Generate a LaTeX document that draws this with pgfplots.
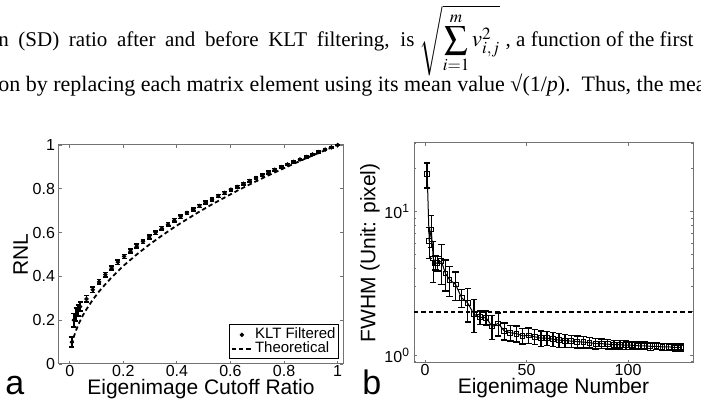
\documentclass[border=0pt]{standalone}
\usepackage{mathptmx}
\usepackage{graphicx}
\usepackage{fontspec}
\setmainfont{Liberation Serif}
\newfontfamily\arial{Liberation Sans}
\usepackage{pgfplots}
\pgfplotsset{compat=1.18}
\usepackage{pgfplotstable}

\pgfplotstableread{
x y e
0.0078 0.100 0.022
0.0156 0.200 0.030
0.0234 0.225 0.030
0.0313 0.245 0.025
0.0391 0.262 0.020
0.0625 0.297 0.015
0.0859 0.339 0.012
0.1094 0.375 0.011
0.1328 0.408 0.010
0.1563 0.438 0.010
0.1797 0.465 0.010
0.2031 0.491 0.009
0.2266 0.515 0.009
0.2500 0.538 0.009
0.2734 0.559 0.008
0.2969 0.580 0.008
0.3203 0.600 0.008
0.3438 0.619 0.008
0.3672 0.638 0.008
0.3906 0.656 0.008
0.4141 0.673 0.008
0.4375 0.690 0.007
0.4609 0.706 0.007
0.4844 0.722 0.007
0.5078 0.737 0.007
0.5313 0.752 0.007
0.5547 0.767 0.007
0.5781 0.781 0.007
0.6016 0.796 0.006
0.6250 0.809 0.006
0.6484 0.823 0.006
0.6719 0.836 0.006
0.6953 0.849 0.006
0.7188 0.862 0.006
0.7422 0.874 0.006
0.7656 0.887 0.005
0.7891 0.899 0.005
0.8125 0.911 0.005
0.8359 0.923 0.005
0.8594 0.934 0.005
0.8828 0.945 0.005
0.9063 0.957 0.004
0.9297 0.968 0.004
0.9531 0.979 0.004
0.9766 0.989 0.004
1.0000 1.000 0.003
}\klt

\pgfplotstableread{
x y
0.0078 0.088
0.0156 0.125
0.0234 0.153
0.0313 0.177
0.0391 0.198
0.0500 0.224
0.0625 0.250
0.0859 0.293
0.1094 0.331
0.1328 0.364
0.1563 0.395
0.1797 0.424
0.2031 0.451
0.2500 0.500
0.2969 0.545
0.3438 0.586
0.3906 0.625
0.4375 0.661
0.4844 0.696
0.5313 0.729
0.5781 0.760
0.6250 0.791
0.6719 0.820
0.7188 0.848
0.7656 0.875
0.8125 0.901
0.8594 0.927
0.9063 0.952
0.9531 0.976
1.0000 1.000
}\theo

\pgfplotstableread{
n y e
1 18.2 3.6
2 6.2 1.5
3 7.5 1.9
4 4.7 1.5
5 4.4 0.5
6 4.35 0.5
8 4.5 1.4
10 3.7 0.9
12 3.35 0.8
15 3.1 0.7
18 2.5 0.35
21 2.3 0.6
24 1.93 0.5
27 1.83 0.2
30 1.82 0.2
33 1.58 0.3
36 1.66 0.3
39 1.47 0.2
42 1.43 0.18
45 1.41 0.18
48 1.36 0.17
51 1.37 0.17
54 1.34 0.16
57 1.31 0.16
60 1.31 0.15
63 1.29 0.14
66 1.27 0.14
69 1.26 0.13
72 1.25 0.12
75 1.24 0.12
78 1.23 0.11
81 1.22 0.10
84 1.20 0.10
87 1.20 0.09
90 1.19 0.09
93 1.18 0.08
96 1.18 0.08
99 1.17 0.08
102 1.17 0.07
105 1.16 0.07
108 1.16 0.07
111 1.15 0.07
114 1.15 0.06
117 1.14 0.06
120 1.14 0.06
123 1.13 0.06
126 1.13 0.06
}\fwhm

\pgfplotsset{
  matlab/.style={
    scale only axis,
    anchor=south west,
    tick align=inside,
    major tick length=1.6pt,
    minor tick length=0.9pt,
    axis line style={black!55, line width=0.5pt},
    tick style={black!55, line width=0.4pt},
    tick label style={font=\arial\fontsize{8}{9}\selectfont, black},
    xticklabel style={yshift=3pt},
    yticklabel style={xshift=1.5pt},
    label style={font=\arial\fontsize{10.5}{12}\selectfont, black},
    xlabel style={yshift=5.5pt},
    ylabel style={yshift=-4.5pt},
    /pgf/number format/assume math mode=true,
  },
  shortlegend/.style={
    legend image code/.code={\draw[mark repeat=2,mark phase=2,##1] plot coordinates {(0cm,0cm) (0.18cm,0cm) (0.36cm,0cm)};}
  },
}

\begin{document}
\begin{tikzpicture}
\path[use as bounding box] (0pt,0pt) rectangle (350.5pt,203pt);
\clip (0pt,0pt) rectangle (350.5pt,203pt);

\node[anchor=base west, inner sep=0pt, font=\fontsize{10.5}{13}\selectfont] at (-1pt,179.5pt)
  {\hbox to 208pt{n (SD) ratio after and before KLT filtering, is}\ \scalebox{1.1}{$\displaystyle\sqrt{\sum_{i=1}^{m} v_{i,j}^{2}}$} , a function of the first};
\node[anchor=base west, inner sep=0pt, font=\fontsize{11}{13}\selectfont] at (-1pt,157pt)
  {on by replacing each matrix element using its mean value √(1/\textit{p}).\ \ Thus, the mean};

\begin{axis}[matlab, shortlegend,
  at={(29.5pt,21pt)}, width=142pt, height=109.5pt,
  xmin=-0.04, xmax=1.02, ymin=0, ymax=1,
  xtick={0,0.2,0.4,0.6,0.8,1}, xticklabels={0,0.2,0.4,0.6,0.8,1},
  ytick={0,0.2,0.4,0.6,0.8,1}, yticklabels={0,0.2,0.4,0.6,0.8,1},
  xlabel={Eigenimage Cutoff Ratio}, ylabel={RNL},
  legend style={font=\arial\fontsize{7.5}{8.5}\selectfont, draw=black, line width=0.4pt,
    at={(1,0)}, anchor=south east, xshift=-2pt, yshift=2.5pt,
    inner sep=0.5pt, row sep=-2pt, nodes={inner sep=1pt}},
  legend cell align=left,
]
\addplot[only marks, mark=*, mark size=0.9pt, black,
  error bars/.cd, y dir=both, y explicit,
  error bar style={line width=0.8pt, black},
  error mark options={rotate=90, mark size=1.2pt, line width=0.8pt, black}]
  table[x=x, y=y, y error=e] {\klt};
\addlegendentry{KLT Filtered}
\addplot[black, line width=0.9pt, dash pattern=on 2.2pt off 1.5pt] table[x=x, y=y] {\theo};
\addlegendentry{Theoretical}
\end{axis}

\begin{axis}[matlab,
  at={(207pt,21.5pt)}, width=139.5pt, height=110pt,
  ymode=log, xmin=-5.5, xmax=132, ymin=0.88, ymax=30,
  xtick={0,50,100}, xticklabels={0,50,100},
  ytick={1,10}, yticklabels={10\textsuperscript{0},10\textsuperscript{1}},
  minor ytick={0.9,2,3,4,5,6,7,8,9,20,30},
  xlabel={Eigenimage Number}, ylabel={FWHM (Unit: pixel)},
]
\addplot[black, line width=0.5pt, mark=square, mark size=1.2pt, mark options={solid, line width=0.5pt},
  error bars/.cd, y dir=both, y explicit,
  error bar style={line width=0.7pt, black},
  error mark options={rotate=90, mark size=1.6pt, line width=0.7pt, black}]
  table[x=n, y=y, y error=e] {\fwhm};
\addplot[black, line width=0.9pt, dash pattern=on 2.2pt off 1.5pt] coordinates {(-5.5,2) (132,2)};
\end{axis}

\node[anchor=base west, inner sep=0pt, font=\arial\fontsize{17}{17}\selectfont] at (2.5pt,5.5pt) {a};
\node[anchor=base west, inner sep=0pt, font=\arial\fontsize{17}{17}\selectfont] at (181pt,5.5pt) {b};
\end{tikzpicture}
\end{document}
